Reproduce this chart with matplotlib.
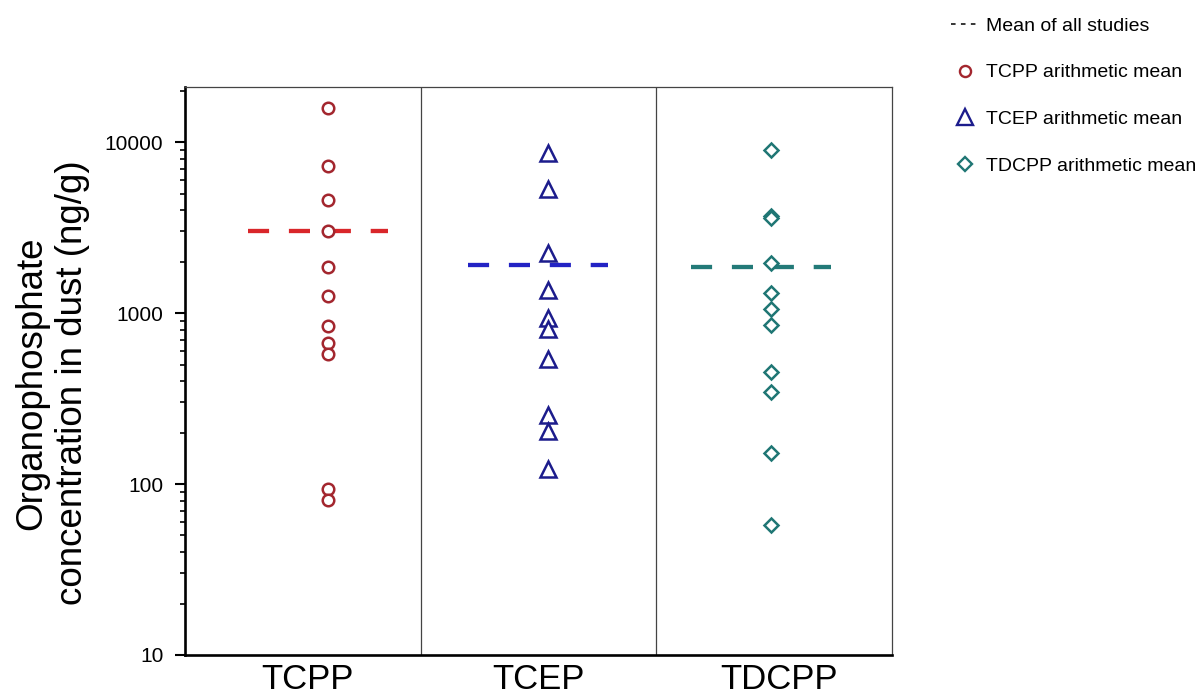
import matplotlib
matplotlib.use("Agg")
import matplotlib.pyplot as plt
from matplotlib.lines import Line2D
from matplotlib.ticker import FixedLocator, FuncFormatter, LogLocator, NullFormatter

plt.rcParams["font.family"] = ["Liberation Sans", "DejaVu Sans"]

# values (ng/g)
compounds = ["TCPP", "TCEP", "TDCPP"]
tcpp_values = [15900, 7200, 4600, 3000, 1870, 1250, 840, 665, 575, 93, 81]
tcep_values = [8650, 5300, 2250, 1370, 940, 810, 540, 254, 204, 122]
tdcpp_values = [8950, 3700, 3600, 1970, 1310, 1050, 850, 450, 345, 151, 57.5]
study_means = [3000, 1910, 1870]
y_ticks = [10, 100, 1000, 10000]

# layout / style
marker_x = [0.606, 1.539, 2.487]
label_x = [0.52, 1.50, 2.52]
dash_left, dash_right = 0.34, 0.255
markers = ["o", "^", "D"]
marker_sizes = [8.3, 11.5, 7.2]
marker_colors = ["#a3262e", "#1c1c8c", "#1f7674"]
dash_colors = ["#d9262a", "#2323c4", "#237a78"]

fig = plt.figure(figsize=(11.96, 6.97), dpi=100)
ax = fig.add_axes([185 / 1196, 1 - 655 / 697, 707 / 1196, 568 / 697])

series = [tcpp_values, tcep_values, tdcpp_values]
for i, vals in enumerate(series):
    x = marker_x[i]
    ax.plot([x - dash_left, x + dash_right], [study_means[i]] * 2,
            color=dash_colors[i], lw=3.1, dashes=(4.9, 4.6),
            solid_capstyle="butt", dash_capstyle="butt", zorder=2)
    ax.plot([x] * len(vals), vals, ls="none", marker=markers[i],
            ms=marker_sizes[i], mfc="white", mec=marker_colors[i],
            mew=1.8, zorder=3)

for xd in [1, 2]:
    ax.axvline(xd, color="#444444", lw=0.9, zorder=1)

ax.set_yscale("log")
ax.set_ylim(10, 21000)
ax.set_xlim(0, 3)

ax.yaxis.set_major_locator(FixedLocator(y_ticks))
ax.yaxis.set_major_formatter(FuncFormatter(lambda v, p: f"{v:.0f}"))
ax.yaxis.set_minor_locator(LogLocator(base=10, subs=range(2, 10)))
ax.yaxis.set_minor_formatter(NullFormatter())
ax.tick_params(axis="y", which="major", direction="out", length=7.5,
               width=1.5, labelsize=15, pad=8, right=False)
ax.tick_params(axis="y", which="minor", direction="out", length=3.8,
               width=1.2, right=False)

ax.set_xticks(label_x)
ax.set_xticklabels(compounds)
ax.tick_params(axis="x", length=0, labelsize=25, pad=6)

for side in ["left", "bottom"]:
    ax.spines[side].set_linewidth(1.9)
    ax.spines[side].set_color("black")
for side in ["top", "right"]:
    ax.spines[side].set_linewidth(0.9)
    ax.spines[side].set_color("#444444")

ax.set_ylabel("Organophosphate\nconcentration in dust (ng/g)",
              fontsize=26.5, linespacing=1.22)
ax.yaxis.set_label_coords(-0.134, 0.479)

handles = [
    Line2D([], [], color="black", lw=1.1, dashes=(3, 3.5)),
    Line2D([], [], ls="none", marker="o", ms=8, mfc="white",
           mec=marker_colors[0], mew=1.7),
    Line2D([], [], ls="none", marker="^", ms=11, mfc="white",
           mec=marker_colors[1], mew=1.7),
    Line2D([], [], ls="none", marker="D", ms=7, mfc="white",
           mec=marker_colors[2], mew=1.7),
]
labels = ["Mean of all studies", "TCPP arithmetic mean",
          "TCEP arithmetic mean", "TDCPP arithmetic mean"]
fig.legend(handles, labels, loc="upper left",
           bbox_to_anchor=(951 / 1196, 1 - 17 / 697), frameon=False,
           fontsize=14, handlelength=1.45, handletextpad=0.35,
           labelspacing=1.5, borderpad=0, borderaxespad=0)

fig.savefig("out.png", dpi=100)
plt.close(fig)
